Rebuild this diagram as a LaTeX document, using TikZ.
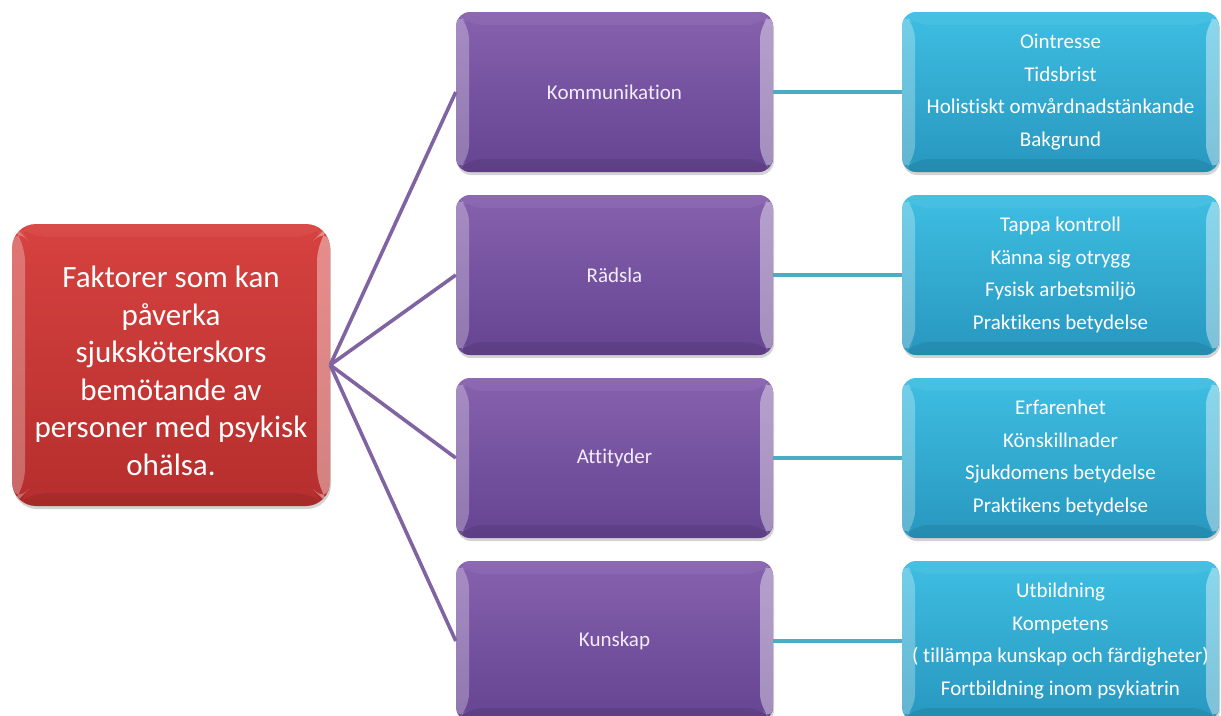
\documentclass[tikz,border=0pt]{standalone}
\usepackage{fontspec}
\setmainfont{Carlito}[Ligatures={NoCommon}]
\usetikzlibrary{shadows}
\definecolor{redtop}{HTML}{D6423F}
\definecolor{redbot}{HTML}{B52E2D}
\definecolor{purtop}{HTML}{8661AE}
\definecolor{purbot}{HTML}{654491}
\definecolor{blutop}{HTML}{3EBEE2}
\definecolor{blubot}{HTML}{2897BF}
\definecolor{purline}{HTML}{8064A2}
\definecolor{bluline}{HTML}{4BACC6}
\definecolor{purtext}{HTML}{F3ECFB}
\tikzset{
  bevel/.style={path picture={
    \fill[white,opacity=0.28] (path picture bounding box.north west) -- ++(13,13) -- ([shift={(13,-13)}]path picture bounding box.south west) -- (path picture bounding box.south west) -- cycle;
    \fill[white,opacity=0.40] (path picture bounding box.north east) -- ++(-13,13) -- ([shift={(-13,-13)}]path picture bounding box.south east) -- (path picture bounding box.south east) -- cycle;
    \fill[white,opacity=0.05] (path picture bounding box.north west) -- (path picture bounding box.north east) -- ++(-13,13) -- ([shift={(13,13)}]path picture bounding box.north west) -- cycle;
    \fill[black,opacity=0.08] (path picture bounding box.south west) -- (path picture bounding box.south east) -- ++(-13,-13) -- ([shift={(13,-13)}]path picture bounding box.south west) -- cycle;
  }},
  box/.style={rectangle, rounded corners=14pt, minimum width=317pt, minimum height=160pt,
    drop shadow={shadow xshift=1pt, shadow yshift=-3pt, opacity=0.35}, bevel, align=center, inner sep=0pt},
  mainbox/.style={box, rounded corners=24pt, minimum width=318pt, minimum height=282pt,
    top color=redtop, bottom color=redbot, text=white, font=\fontsize{31}{37.5}\selectfont},
  catbox/.style={box, top color=purtop, bottom color=purbot, text=purtext, font=\fontsize{21}{25}\selectfont},
  itembox/.style={box, top color=blutop, bottom color=blubot, text=white, font=\fontsize{21}{32.5}\selectfont},
  purconn/.style={draw=purline, line width=3.6pt},
  bluconn/.style={draw=bluline, line width=4.5pt},
}
\begin{document}
\begin{tikzpicture}[x=1pt,y=-1pt]
\useasboundingbox (0,0) rectangle (1221,715);
\node[mainbox] (main) at (171,365) {\raisebox{-9pt}[\height][\depth]{\begin{tabular}{@{}c@{}}Faktorer som kan\\påverka\\sjuksköterskors\\bemötande av\\personer med psykisk\\ohälsa.\end{tabular}}};

\node[catbox] (c1) at (614.5,92) {Kommunikation};
\node[catbox] (c2) at (614.5,275) {Rädsla};
\node[catbox] (c3) at (614.5,458) {Attityder};
\node[catbox] (c4) at (614.5,641) {Kunskap};

\node[itembox] (i1) at (1060.5,92) {Ointresse\\Tidsbrist\\Holistiskt omvårdnadstänkande\\Bakgrund};
\node[itembox] (i2) at (1060.5,275) {Tappa kontroll\\Känna sig otrygg\\Fysisk arbetsmiljö\\Praktikens betydelse};
\node[itembox] (i3) at (1060.5,458) {Erfarenhet\\Könskillnader\\Sjukdomens betydelse\\Praktikens betydelse};
\node[itembox] (i4) at (1060.5,641) {Utbildning\\Kompetens\\( tillämpa kunskap och färdigheter)\\Fortbildning inom psykiatrin};

\foreach \c in {c1,c2,c3,c4} \draw[purconn] (main.east) -- (\c.west);
\draw[bluconn] (c1.east) -- (i1.west);
\draw[bluconn] (c2.east) -- (i2.west);
\draw[bluconn] (c3.east) -- (i3.west);
\draw[bluconn] (c4.east) -- (i4.west);
\end{tikzpicture}
\end{document}
